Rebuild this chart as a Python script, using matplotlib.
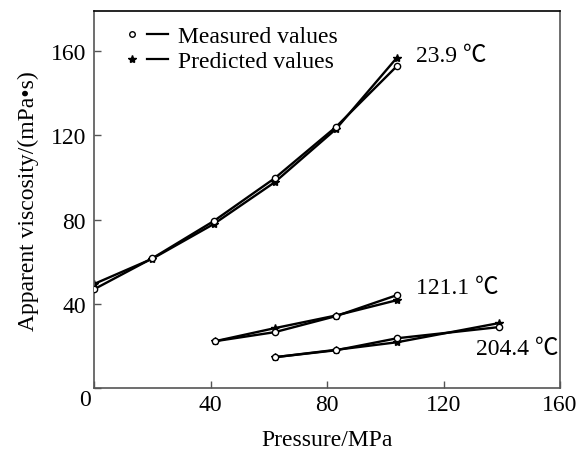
import matplotlib.pyplot as plt
from matplotlib.lines import Line2D
from matplotlib.legend_handler import HandlerTuple

plt.rcParams['font.family'] = ['Liberation Serif', 'Noto Sans CJK SC', 'DejaVu Serif']

# ---- data ----
p_239 = [0, 20, 41, 62, 83, 104]
meas_239 = [47.0, 61.7, 79.3, 99.7, 124.0, 153.0]
pred_239 = [49.5, 61.5, 77.9, 97.8, 123.0, 157.0]

p_1211 = [41.5, 62, 83, 104]
meas_1211 = [22.3, 26.6, 34.2, 44.2]
pred_1211 = [22.3, 28.5, 34.5, 41.8]

p_2044 = [62, 83, 104, 139]
meas_2044 = [14.7, 18.0, 23.7, 29.0]
pred_2044 = [14.7, 18.2, 21.8, 30.9]

labels = ['23.9 \u2103', '121.1 \u2103', '204.4 \u2103']
fs = 17

fig = plt.figure(figsize=(5.78, 4.52), dpi=100)
ax = fig.add_axes([0.163, 0.139, 0.806, 0.834])

series = [(p_239, meas_239, pred_239), (p_1211, meas_1211, pred_1211),
          (p_2044, meas_2044, pred_2044)]
for x, m, p in series:
    ax.plot(x, p, '-', color='black', lw=1.7, marker='*', ms=6, mfc='black', zorder=2)
    ax.plot(x, m, '-', color='black', lw=1.7, marker='o', ms=4.5, mfc='white',
            mec='black', mew=1.0, zorder=3)

ax.text(110.5, 158, labels[0], fontsize=fs, va='center')
ax.text(110.5, 48, labels[1], fontsize=fs, va='center')
ax.text(131, 19, labels[2], fontsize=fs, va='center')

ax.set_xlim(0, 160)
ax.set_ylim(0, 179)
ax.set_xticks([0, 40, 80, 120, 160])
ax.set_xticklabels(['', '40', '80', '120', '160'])
ax.set_yticks([0, 40, 80, 120, 160])
ax.set_yticklabels(['', '40', '80', '120', '160'])
ax.tick_params(direction='in', length=5, width=1, colors='#555555', labelcolor='black',
               labelsize=fs, top=False, right=False)
ax.tick_params(axis='x', pad=4)
ax.tick_params(axis='y', pad=6)
# shared origin label
ax.text(-0.008, -0.03, '0', transform=ax.transAxes, fontsize=fs, ha='right', va='center')
for s in ax.spines.values():
    s.set_color('#555555')
    s.set_linewidth(1.2)
ax.spines['top'].set_color('black')

ax.set_xlabel('Pressure/MPa', fontsize=fs, labelpad=10)
ax.set_ylabel('Apparent viscosity/(mPa\u2022s)', fontsize=fs, labelpad=8)

# legend: marker to the left of a short line
m_mark = Line2D([], [], ls='none', marker='o', ms=4, mfc='white', mec='black')
p_mark = Line2D([], [], ls='none', marker='*', ms=6, color='black')
seg = Line2D([], [], color='black', lw=1.6)
ax.legend([(m_mark, seg), (p_mark, seg)], ['Measured values', 'Predicted values'],
          handler_map={tuple: HandlerTuple(ndivide=2, pad=0.2)},
          loc='upper left', bbox_to_anchor=(0.022, 1.005), frameon=False, fontsize=fs,
          handlelength=2.0, handletextpad=0.4, labelspacing=0.15, borderpad=0.2)

fig.savefig('out.png', dpi=100)
